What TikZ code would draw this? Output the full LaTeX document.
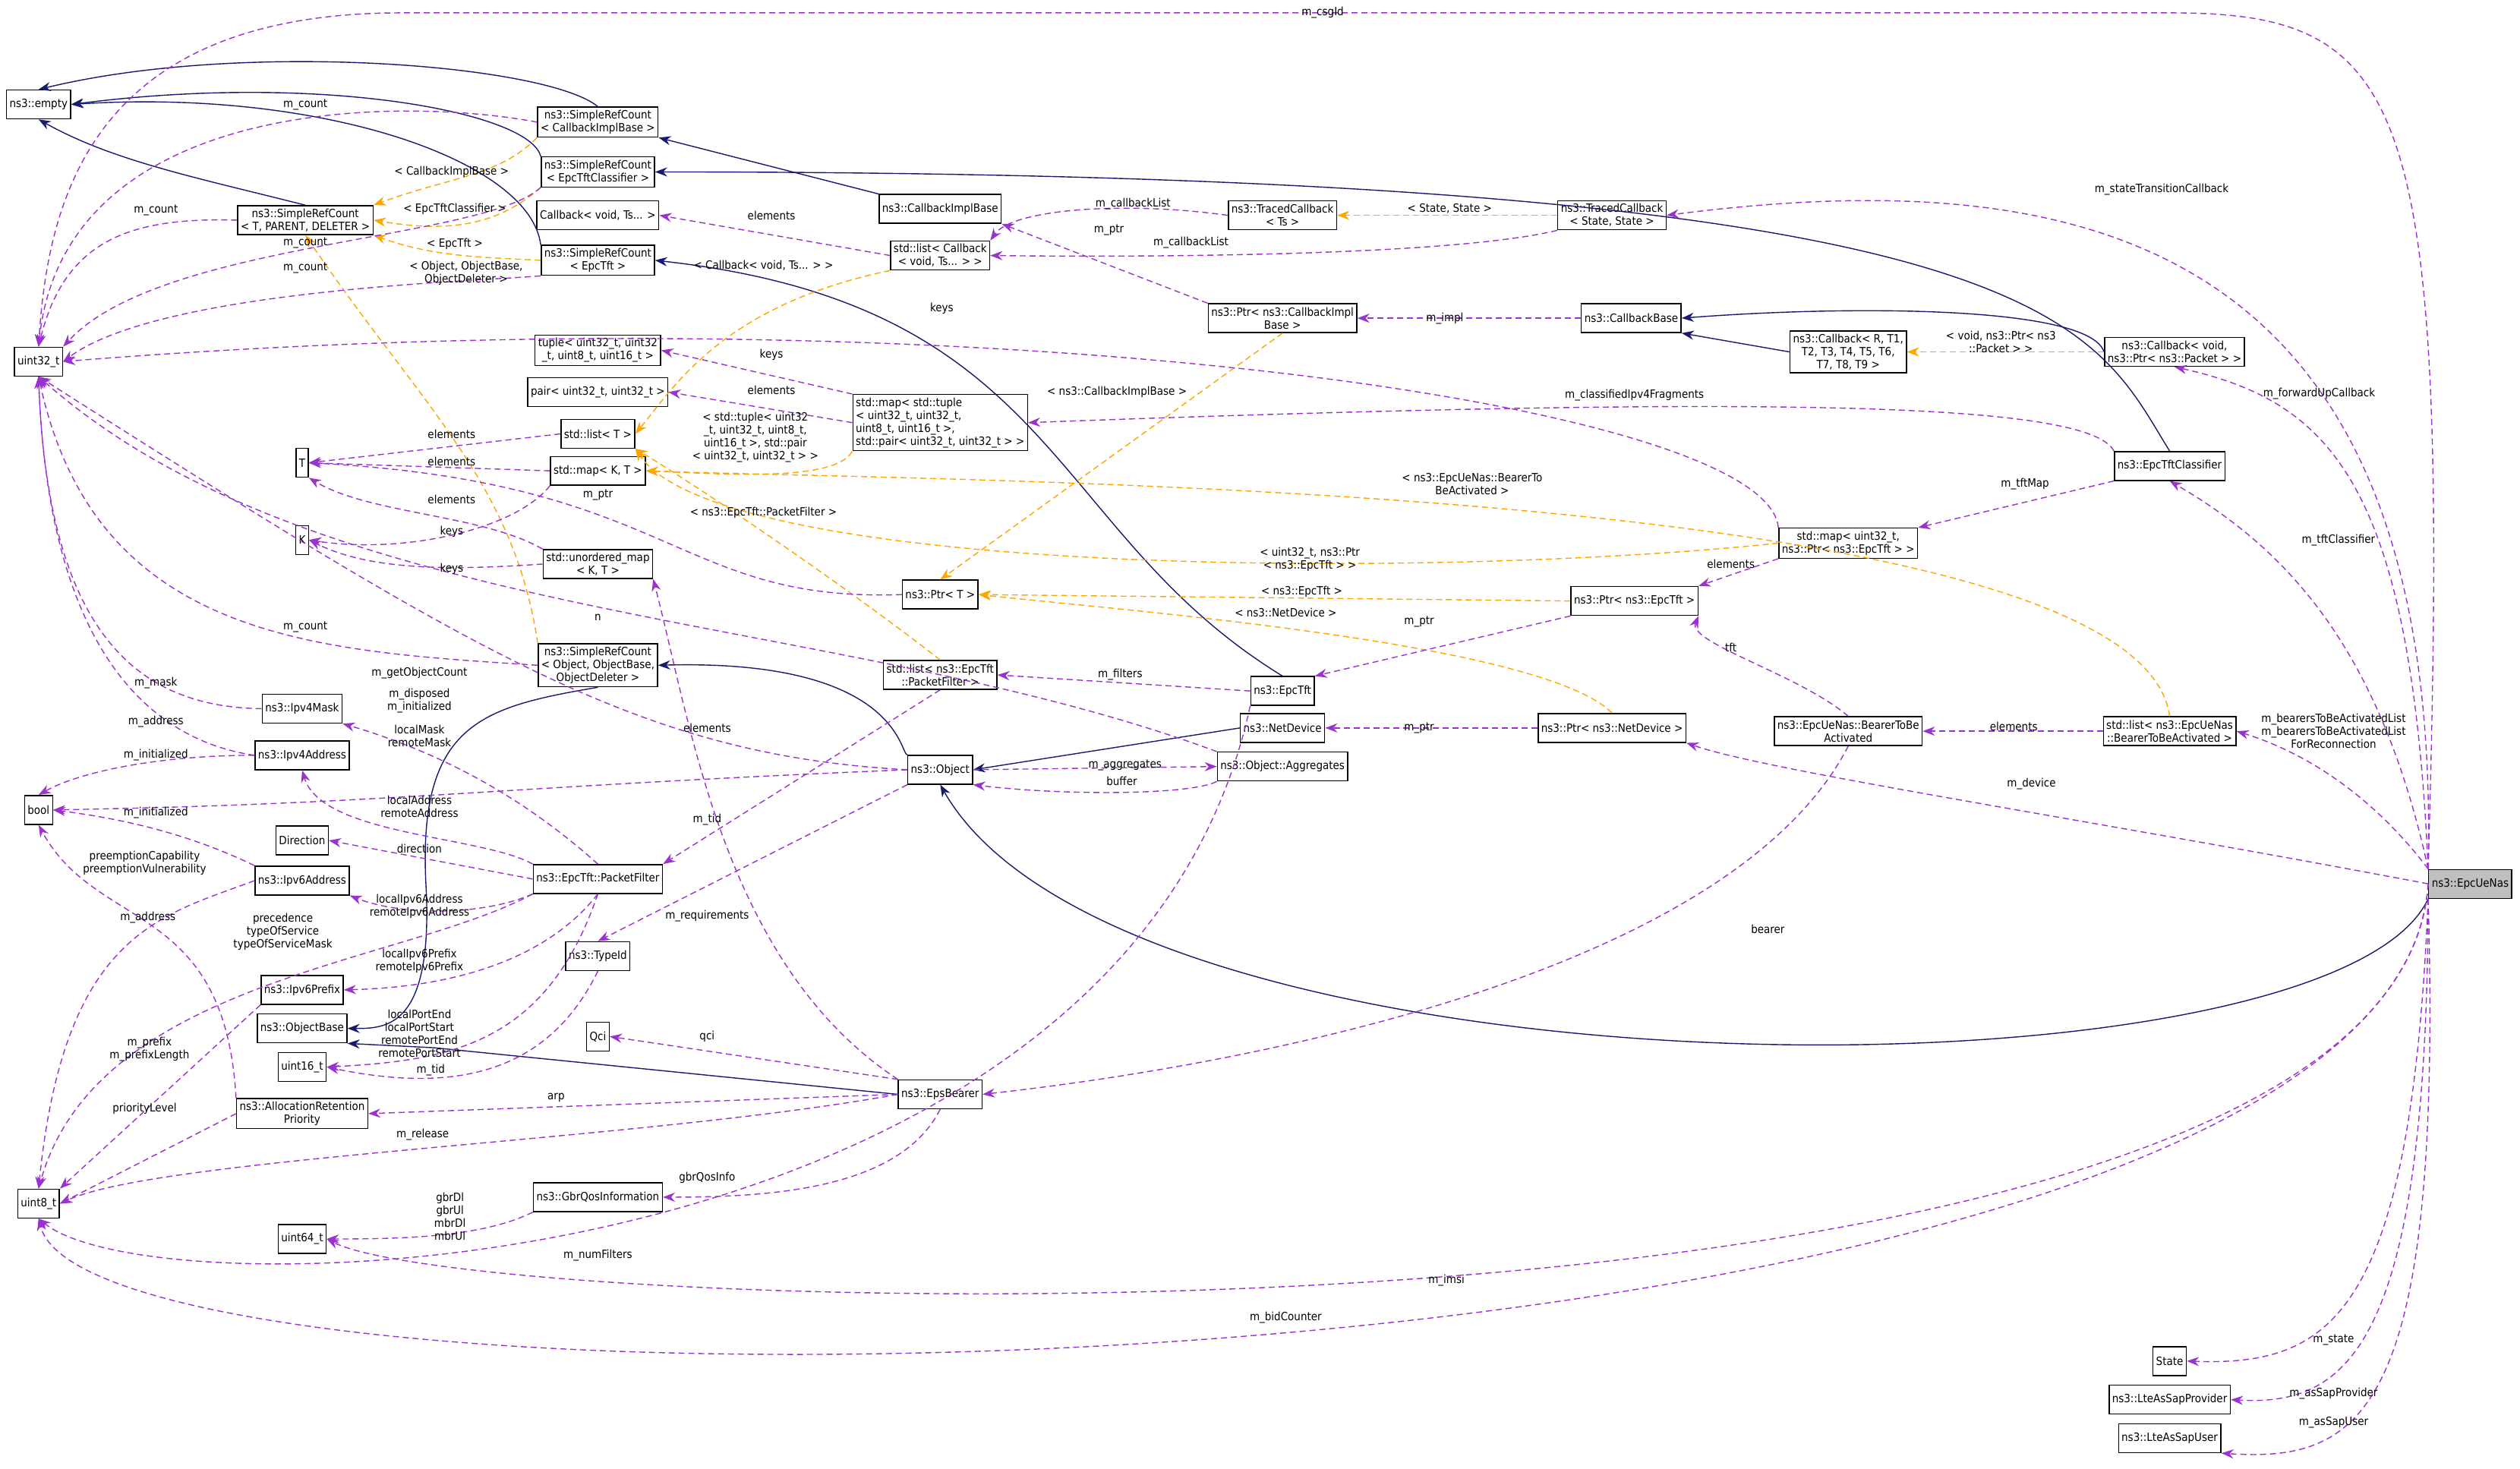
\documentclass[tikz,border=0pt]{standalone}
\usepackage{fontspec}
\setmainfont{DejaVu Sans Condensed}
\usetikzlibrary{arrows.meta}
\definecolor{navy}{HTML}{191970}
\definecolor{purp}{HTML}{9A32CD}
\definecolor{orng}{HTML}{FFA500}
\tikzset{
 box/.style={draw=black,line width=1.4pt,fill=white,inner sep=4pt,align=center,font=\fontsize{15}{17}\selectfont,minimum height=38pt},
 inh/.style={draw=navy,line width=1.4pt,-{Stealth[length=16pt,width=12pt]}},
 use/.style={draw=purp,line width=1.4pt,dash pattern=on 8pt off 5pt,-{Stealth[length=16pt,width=12pt]}},
 tpl/.style={draw=orng,line width=1.4pt,dash pattern=on 8pt off 5pt,-{Stealth[length=16pt,width=12pt]}},
 lbl/.style={align=center,font=\fontsize{15}{17}\selectfont,inner sep=1pt}
}
\begin{document}
\begin{tikzpicture}[x=2.117pt,y=-2.117pt]
\useasboundingbox (0,0) rectangle (1568,914);
% nodes
\node[box] (empty) at (24,65) {ns3::empty};
\node[box] (u32) at (24,225) {uint32\_t};
\node[box] (bool) at (24,504) {bool};
\node[box] (u8) at (24,749) {uint8\_t};
\node[box] (srcT) at (190,137) {ns3::SimpleRefCount\\< T, PARENT, DELETER >};
\node[box] (T) at (188,288) {T};
\node[box] (K) at (188,336) {K};
\node[box] (v4m) at (188,441) {ns3::Ipv4Mask};
\node[box] (v4a) at (188,470) {ns3::Ipv4Address};
\node[box] (dir) at (188,523) {Direction};
\node[box] (v6a) at (188,548) {ns3::Ipv6Address};
\node[box] (v6p) at (188,616) {ns3::Ipv6Prefix};
\node[box] (obase) at (188,640) {ns3::ObjectBase};
\node[box] (u16) at (188,664) {uint16\_t};
\node[box] (arp) at (188,693) {ns3::AllocationRetention\\Priority};
\node[box] (u64) at (188,771) {uint64\_t};
\node[box] (srcCIB) at (372,76) {ns3::SimpleRefCount\\< CallbackImplBase >};
\node[box] (srcCls) at (372,107) {ns3::SimpleRefCount\\< EpcTftClassifier >};
\node[box] (cbv) at (372,134) {Callback< void, Ts... >};
\node[box] (srcTft) at (372,162) {ns3::SimpleRefCount\\< EpcTft >};
\node[box] (tuple) at (372,218) {tuple< uint32\_t, uint32\\\_t, uint8\_t, uint16\_t >};
\node[box] (pair) at (372,244) {pair< uint32\_t, uint32\_t >};
\node[box] (listT) at (372,270) {std::list< T >};
\node[box] (mapKT) at (372,293) {std::map< K, T >};
\node[box] (umap) at (372,351) {std::unordered\_map\\< K, T >};
\node[box] (srcObj) at (372,414) {ns3::SimpleRefCount\\< Object, ObjectBase,\\ObjectDeleter >};
\node[box] (pf) at (372,547) {ns3::EpcTft::PacketFilter};
\node[box] (typeid) at (372,595) {ns3::TypeId};
\node[box] (qci) at (372,645) {Qci};
\node[box] (gbr) at (372,745) {ns3::GbrQosInformation};
\node[box] (cib) at (585,130) {ns3::CallbackImplBase};
\node[box] (listcb) at (585,159) {std::list< Callback\\< void, Ts... > >};
\node[box,align=left] (maptup) at (585,263) {std::map< std::tuple\\< uint32\_t, uint32\_t,\\uint8\_t, uint16\_t >,\\std::pair< uint32\_t, uint32\_t > >};
\node[box] (ptrT) at (585,370) {ns3::Ptr< T >};
\node[box] (listpf) at (585,420) {std::list< ns3::EpcTft\\::PacketFilter >};
\node[box] (object) at (585,479) {ns3::Object};
\node[box] (eps) at (585,681) {ns3::EpsBearer};
\node[box] (tcTs) at (798,134) {ns3::TracedCallback\\< Ts >};
\node[box] (ptrCIB) at (798,198) {ns3::Ptr< ns3::CallbackImpl\\Base >};
\node[box] (tft) at (798,430) {ns3::EpcTft};
\node[box] (netdev) at (798,453) {ns3::NetDevice};
\node[box] (aggr) at (798,477) {ns3::Object::Aggregates};
\node[box] (tcSS) at (1003,134) {ns3::TracedCallback\\< State, State >};
\node[box] (cbbase) at (1015,198) {ns3::CallbackBase};
\node[box] (cbR) at (1150,219) {ns3::Callback< R, T1,\\T2, T3, T4, T5, T6,\\T7, T8, T9 >};
\node[box] (mapTft) at (1150,338) {std::map< uint32\_t,\\ns3::Ptr< ns3::EpcTft > >};
\node[box] (ptrTft) at (1017,374) {ns3::Ptr< ns3::EpcTft >};
\node[box] (ptrND) at (1003,453) {ns3::Ptr< ns3::NetDevice >};
\node[box] (btba) at (1150,455) {ns3::EpcUeNas::BearerToBe\\Activated};
\node[box] (cbPkt) at (1353,219) {ns3::Callback< void,\\ns3::Ptr< ns3::Packet > >};
\node[box] (cls) at (1350,290) {ns3::EpcTftClassifier};
\node[box] (listBT) at (1350,455) {std::list< ns3::EpcUeNas\\::BearerToBeActivated >};
\node[box] (state) at (1350,847) {State};
\node[box] (sapP) at (1350,871) {ns3::LteAsSapProvider};
\node[box] (sapU) at (1350,895) {ns3::LteAsSapUser};
\node[box,fill=black!25] (nas) at (1537,550) {ns3::EpcUeNas};

% inheritance
\draw[inh] (srcCIB.north) .. controls (340,40) and (150,25) .. (empty.north);
\draw[inh] (srcCls.north west) .. controls (330,70) and (200,45) .. (empty.east);
\draw[inh] (srcTft.north west) .. controls (330,100) and (200,55) .. (empty.east);
\draw[inh] (srcT.north) .. controls (120,110) and (70,100) .. (empty.south);
\draw[inh] (cib.north west) -- (srcCIB.south east);
\draw[inh] (cls.north) .. controls (1300,200) and (1280,107) .. (srcCls.east);
\draw[inh] (tft.north) .. controls (650,330) and (660,190) .. (srcTft.east);
\draw[inh] (object.north west) .. controls (560,470) and (560,410) .. (srcObj.east);
\draw[inh] (srcObj.south) .. controls (300,440) and (260,450) .. (265,550) .. controls (270,640) and (240,640) .. (obase.east);
\draw[inh] (eps.west) -- (270,652) -- (obase.south east);
\draw[inh] (netdev.west) -- (object.east);
\draw[inh] (nas.south west) .. controls (1450,690) and (700,690) .. (object.south);
\draw[inh] (cbR.west) -- (cbbase.south east);
\draw[inh] (cbPkt.west) .. controls (1300,190) and (1150,190) .. (cbbase.east);

% template
\draw[tpl] (srcCIB.south west) .. controls (310,110) and (280,110) .. (srcT.north east);
\draw[tpl] (srcCls.south west) .. controls (310,140) and (280,145) .. (srcT.east);
\draw[tpl] (srcTft.west) .. controls (300,160) and (270,160) .. (srcT.south east);
\draw[tpl] (srcObj.north west) .. controls (320,300) and (260,250) .. (srcT.south);
\draw[tpl] (listcb.south west) .. controls (450,190) and (420,240) .. (listT.east);
\draw[tpl] (maptup.south west) .. controls (520,300) and (450,295) .. (mapKT.east);
\draw[tpl] (listpf.north) .. controls (520,360) and (430,300) .. (listT.south east);
\draw[tpl] (listBT.north) .. controls (1330,300) and (600,300) .. (mapKT.east);
\draw[tpl] (mapTft.west) .. controls (900,360) and (450,360) .. (listT.south east);
\draw[tpl] (ptrCIB.south) -- (ptrT.north);
\draw[tpl] (ptrTft.west) -- (ptrT.east);
\draw[tpl] (ptrND.north) .. controls (960,400) and (700,380) .. (ptrT.east);
\draw[tpl] (tcSS.west) -- (tcTs.east);
\draw[tpl] (cbPkt.west) -- (cbR.east);

% usage
\draw[use] (nas.north west) .. controls (1525,60) and (1500,8) .. (1350,8) -- (250,8) .. controls (60,8) and (30,120) .. (u32.north);
\draw[use] (srcCIB.west) .. controls (250,60) and (40,60) .. (u32.north);
\draw[use] (srcT.west) .. controls (80,135) and (40,150) .. (u32.north);
\draw[use] (srcCls.south west) .. controls (300,150) and (100,150) .. (u32.north east);
\draw[use] (srcTft.south west) .. controls (300,175) and (100,180) .. (u32.east);
\draw[use] (mapTft.north west) .. controls (1100,250) and (600,180) .. (u32.east);
\draw[use] (srcObj.west) .. controls (200,405) and (60,400) .. (u32.south);
\draw[use] (aggr.north west) .. controls (520,380) and (200,390) .. (u32.south);
\draw[use] (object.west) .. controls (400,470) and (300,410) .. (u32.south);
\draw[use] (v4m.west) .. controls (90,440) and (30,400) .. (u32.south);
\draw[use] (v4a.west) .. controls (90,460) and (30,400) .. (u32.south);
\draw[use] (v4a.west) .. controls (100,470) and (50,480) .. (bool.north);
\draw[use] (v6a.north west) .. controls (120,520) and (80,510) .. (bool.east);
\draw[use] (object.west) .. controls (300,490) and (250,500) .. (bool.east);
\draw[use] (arp.north west) .. controls (140,560) and (60,580) .. (bool.south);
\draw[use] (v6a.west) .. controls (100,570) and (40,580) .. (u8.north);
\draw[use] (v6p.south west) -- (u8.north east);
\draw[use] (arp.west) -- (u8.east);
\draw[use] (eps.west) .. controls (400,710) and (100,720) .. (u8.east);
\draw[use] (tft.south west) .. controls (700,800) and (100,820) .. (u8.south);
\draw[use] (nas.west) .. controls (1490,880) and (60,900) .. (u8.south);
\draw[use] (pf.south west) .. controls (250,600) and (60,610) .. (u8.north);
\draw[use] (pf.north) .. controls (330,500) and (280,470) .. (v4m.south east);
\draw[use] (pf.north west) .. controls (300,520) and (200,520) .. (v4a.south);
\draw[use] (pf.west) -- (dir.east);
\draw[use] (pf.south west) .. controls (300,570) and (250,570) .. (v6a.south east);
\draw[use] (pf.south) .. controls (330,610) and (250,615) .. (v6p.east);
\draw[use] (pf.south) .. controls (340,650) and (280,660) .. (u16.east);
\draw[use] (typeid.south) .. controls (340,670) and (280,680) .. (u16.east);
\draw[use] (object.south west) -- (typeid.north);
\draw[use] (listpf.south) -- (pf.north east);
\draw[use] (eps.north west) -- (qci.east);
\draw[use] (eps.west) -- (arp.east);
\draw[use] (eps.south) .. controls (560,740) and (480,745) .. (gbr.east);
\draw[use] (eps.north west) .. controls (450,600) and (430,450) .. (umap.south east);
\draw[use] (gbr.south west) .. controls (300,770) and (250,771) .. (u64.east);
\draw[use] (nas.west) .. controls (1490,860) and (300,820) .. (u64.east);
\draw[use] (listT.west) -- (T.east);
\draw[use] (mapKT.west) -- (T.east);
\draw[use] (umap.north west) .. controls (300,320) and (230,320) .. (T.south east);
\draw[use] (mapKT.south west) .. controls (320,330) and (250,345) .. (K.east);
\draw[use] (umap.west) .. controls (280,355) and (230,355) .. (K.east);
\draw[use] (ptrT.west) .. controls (420,375) and (420,300) .. (T.east);
\draw[use] (listcb.west) -- (cbv.east);
\draw[use] (maptup.north west) -- (tuple.east);
\draw[use] (maptup.west) -- (pair.east);
\draw[use] (tcTs.west) .. controls (700,125) and (630,130) .. (listcb.north east);
\draw[use] (tcSS.south west) .. controls (900,160) and (700,160) .. (listcb.east);
\draw[use] (ptrCIB.north west) -- (cib.south east);
\draw[use] (cbbase.west) -- (ptrCIB.east);
\draw[use] (cls.north west) .. controls (1300,250) and (1100,246) .. (maptup.east);
\draw[use] (cls.south west) -- (mapTft.north east);
\draw[use] (mapTft.south west) -- (ptrTft.north east);
\draw[use] (ptrTft.south west) -- (tft.north east);
\draw[use] (tft.west) -- (listpf.east);
\draw[use] (ptrND.west) -- (netdev.east);
\draw[use] (object.east) -- (aggr.west);
\draw[use] (aggr.south west) .. controls (740,495) and (660,495) .. (object.south east);
\draw[use] (btba.north) .. controls (1120,420) and (1050,400) .. (ptrTft.south east);
\draw[use] (btba.south) .. controls (1080,600) and (800,660) .. (eps.east);
\draw[use] (listBT.west) -- (btba.east);
\draw[use] (nas.north west) .. controls (1480,500) and (1440,470) .. (listBT.east);
\draw[use] (nas.west) .. controls (1300,510) and (1100,480) .. (ptrND.south east);
\draw[use] (nas.north west) .. controls (1480,400) and (1420,340) .. (cls.south);
\draw[use] (nas.north west) .. controls (1500,300) and (1450,250) .. (cbPkt.south);
\draw[use] (nas.north west) .. controls (1520,150) and (1300,100) .. (tcSS.east);
\draw[use] (nas.south west) .. controls (1500,820) and (1450,850) .. (state.east);
\draw[use] (nas.south west) .. controls (1510,840) and (1460,875) .. (sapP.east);
\draw[use] (nas.south west) .. controls (1520,880) and (1470,910) .. (sapU.south east);

% labels
\node[lbl] at (823,8) {m\_csgId};
\node[lbl] at (190,65) {m\_count};
\node[lbl] at (97,131) {m\_count};
\node[lbl] at (190,151) {m\_count};
\node[lbl] at (190,167) {m\_count};
\node[lbl] at (281,107) {< CallbackImplBase >};
\node[lbl] at (283,130) {< EpcTftClassifier >};
\node[lbl] at (283,152) {< EpcTft >};
\node[lbl] at (290,170) {< Object, ObjectBase,\\ObjectDeleter >};
\node[lbl] at (480,134) {elements};
\node[lbl] at (475,165) {< Callback< void, Ts... > >};
\node[lbl] at (586,192) {keys};
\node[lbl] at (480,221) {keys};
\node[lbl] at (480,243) {elements};
\node[lbl] at (470,272) {< std::tuple< uint32\\\_t, uint32\_t, uint8\_t,\\uint16\_t >, std::pair\\< uint32\_t, uint32\_t > >};
\node[lbl] at (281,270) {elements};
\node[lbl] at (281,287) {elements};
\node[lbl] at (281,311) {elements};
\node[lbl] at (281,331) {keys};
\node[lbl] at (281,354) {keys};
\node[lbl] at (372,308) {m\_ptr};
\node[lbl] at (475,319) {< ns3::EpcTft::PacketFilter >};
\node[lbl] at (372,384) {n};
\node[lbl] at (190,390) {m\_count};
\node[lbl] at (261,419) {m\_getObjectCount};
\node[lbl] at (97,425) {m\_mask};
\node[lbl] at (97,449) {m\_address};
\node[lbl] at (97,470) {m\_initialized};
\node[lbl] at (97,506) {m\_initialized};
\node[lbl] at (261,436) {m\_disposed\\m\_initialized};
\node[lbl] at (261,458) {localMask\\remoteMask};
\node[lbl] at (440,453) {elements};
\node[lbl] at (261,502) {localAddress\\remoteAddress};
\node[lbl] at (440,510) {m\_tid};
\node[lbl] at (261,528) {direction};
\node[lbl] at (90,537) {preemptionCapability\\preemptionVulnerability};
\node[lbl] at (261,564) {localIpv6Address\\remoteIpv6Address};
\node[lbl] at (92,571) {m\_address};
\node[lbl] at (176,580) {precedence\\typeOfService\\typeOfServiceMask};
\node[lbl] at (440,570) {m\_requirements};
\node[lbl] at (261,598) {localIpv6Prefix\\remoteIpv6Prefix};
\node[lbl] at (93,653) {m\_prefix\\m\_prefixLength};
\node[lbl] at (261,643) {localPortEnd\\localPortStart\\remotePortEnd\\remotePortStart};
\node[lbl] at (440,645) {qci};
\node[lbl] at (268,666) {m\_tid};
\node[lbl] at (90,690) {priorityLevel};
\node[lbl] at (346,683) {arp};
\node[lbl] at (263,706) {m\_release};
\node[lbl] at (280,757) {gbrDl\\gbrUl\\mbrDl\\mbrUl};
\node[lbl] at (440,733) {gbrQosInfo};
\node[lbl] at (372,781) {m\_numFilters};
\node[lbl] at (900,797) {m\_imsi};
\node[lbl] at (800,820) {m\_bidCounter};
\node[lbl] at (705,127) {m\_callbackList};
\node[lbl] at (690,143) {m\_ptr};
\node[lbl] at (741,151) {m\_callbackList};
\node[lbl] at (902,130) {< State, State >};
\node[lbl] at (1345,118) {m\_stateTransitionCallback};
\node[lbl] at (899,198) {m\_impl};
\node[lbl] at (1245,213) {< void, ns3::Ptr< ns3\\::Packet > >};
\node[lbl] at (695,244) {< ns3::CallbackImplBase >};
\node[lbl] at (1017,246) {m\_classifiedIpv4Fragments};
\node[lbl] at (1443,245) {m\_forwardUpCallback};
\node[lbl] at (916,301) {< ns3::EpcUeNas::BearerTo\\BeActivated >};
\node[lbl] at (1260,301) {m\_tftMap};
\node[lbl] at (1455,336) {m\_tftClassifier};
\node[lbl] at (815,348) {< uint32\_t, ns3::Ptr\\< ns3::EpcTft > >};
\node[lbl] at (1077,351) {elements};
\node[lbl] at (810,368) {< ns3::EpcTft >};
\node[lbl] at (800,381) {< ns3::NetDevice >};
\node[lbl] at (883,387) {m\_ptr};
\node[lbl] at (697,420) {m\_filters};
\node[lbl] at (1077,403) {tft};
\node[lbl] at (883,453) {m\_ptr};
\node[lbl] at (1253,452) {elements};
\node[lbl] at (1452,455) {m\_bearersToBeActivatedList\\m\_bearersToBeActivatedList\\ForReconnection};
\node[lbl] at (700,476) {m\_aggregates};
\node[lbl] at (698,486) {buffer};
\node[lbl] at (1264,488) {m\_device};
\node[lbl] at (1100,578) {bearer};
\node[lbl] at (1452,834) {m\_state};
\node[lbl] at (1452,867) {m\_asSapProvider};
\node[lbl] at (1452,885) {m\_asSapUser};
\end{tikzpicture}
\end{document}
